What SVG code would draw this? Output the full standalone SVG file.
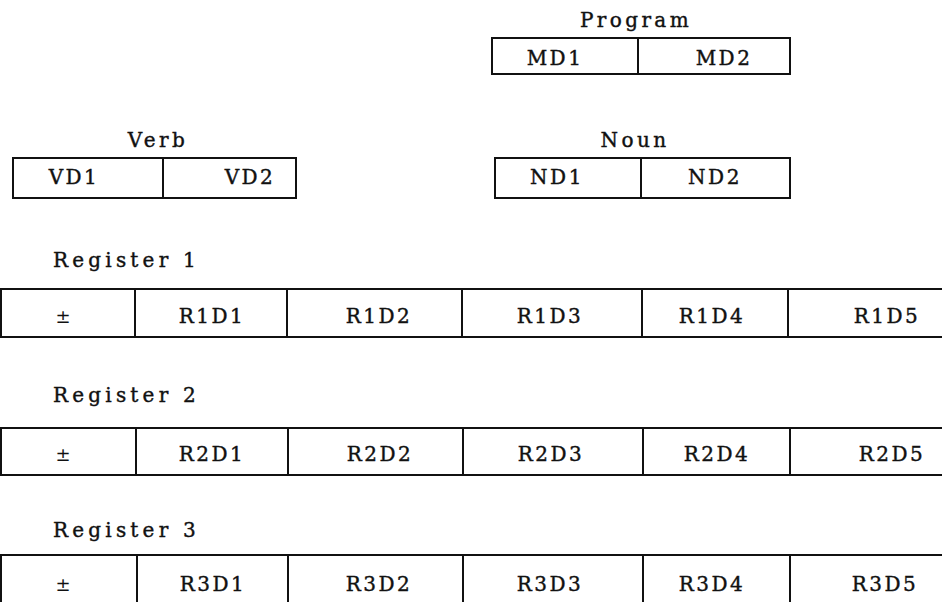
<svg xmlns="http://www.w3.org/2000/svg" width="942" height="602" viewBox="0 0 942 602">
<style>
  .bg{fill:#fff}
  .box{fill:none;stroke:#111;stroke-width:2}
  .div{stroke:#111;stroke-width:2}
  .t{font-family:"DejaVu Serif","Liberation Serif",serif;font-size:20px;fill:#111;stroke:#111;stroke-width:0.4;text-anchor:middle;letter-spacing:2.5px}
  .lab{font-family:"DejaVu Serif","Liberation Serif",serif;font-size:20px;fill:#111;stroke:#111;stroke-width:0.4;letter-spacing:4.2px}
  .pm{font-family:"DejaVu Serif","Liberation Serif",serif;font-size:18px;fill:#111;text-anchor:middle}
</style>
<rect class="bg" x="0" y="0" width="942" height="602"/>

<g id="program">
  <text class="t" x="636" y="27" style="letter-spacing:3.4px">Program</text>
  <rect class="box" x="492" y="38" width="298" height="36"/>
  <line class="div" x1="638" y1="38" x2="638" y2="74"/>
  <text class="t" x="555" y="65">MD1</text>
  <text class="t" x="724" y="65">MD2</text>
</g>

<g id="verb">
  <text class="t" x="158" y="147" style="letter-spacing:3.4px">Verb</text>
  <rect class="box" x="13" y="158" width="283" height="40"/>
  <line class="div" x1="163" y1="158" x2="163" y2="198"/>
  <text class="t" x="74" y="184">VD1</text>
  <text class="t" x="250" y="184">VD2</text>
</g>

<g id="noun">
  <text class="t" x="635" y="147" style="letter-spacing:3.4px">Noun</text>
  <rect class="box" x="495" y="158" width="295" height="40"/>
  <line class="div" x1="641" y1="158" x2="641" y2="198"/>
  <text class="t" x="557" y="184">ND1</text>
  <text class="t" x="715" y="184">ND2</text>
</g>

<g id="register1">
  <text class="lab" x="53" y="267">Register 1</text>
  <rect class="box" x="1" y="289" width="950" height="48"/>
  <line class="div" x1="135" y1="289" x2="135" y2="337"/>
  <line class="div" x1="287" y1="289" x2="287" y2="337"/>
  <line class="div" x1="462" y1="289" x2="462" y2="337"/>
  <line class="div" x1="642" y1="289" x2="642" y2="337"/>
  <line class="div" x1="788" y1="289" x2="788" y2="337"/>
  <text class="pm" x="63" y="323">±</text>
  <text class="t" x="212" y="323">R1D1</text>
  <text class="t" x="379" y="323">R1D2</text>
  <text class="t" x="550" y="323">R1D3</text>
  <text class="t" x="712" y="323">R1D4</text>
  <text class="t" x="887" y="323">R1D5</text>
</g>

<g id="register2">
  <text class="lab" x="53" y="402">Register 2</text>
  <rect class="box" x="1" y="428" width="950" height="47"/>
  <line class="div" x1="136" y1="428" x2="136" y2="475"/>
  <line class="div" x1="288" y1="428" x2="288" y2="475"/>
  <line class="div" x1="463" y1="428" x2="463" y2="475"/>
  <line class="div" x1="643" y1="428" x2="643" y2="475"/>
  <line class="div" x1="790" y1="428" x2="790" y2="475"/>
  <text class="pm" x="63" y="461">±</text>
  <text class="t" x="212" y="461">R2D1</text>
  <text class="t" x="380" y="461">R2D2</text>
  <text class="t" x="551" y="461">R2D3</text>
  <text class="t" x="717" y="461">R2D4</text>
  <text class="t" x="892" y="461">R2D5</text>
</g>

<g id="register3">
  <text class="lab" x="53" y="537">Register 3</text>
  <rect class="box" x="1" y="555" width="950" height="60"/>
  <line class="div" x1="137" y1="555" x2="137" y2="602"/>
  <line class="div" x1="288" y1="555" x2="288" y2="602"/>
  <line class="div" x1="463" y1="555" x2="463" y2="602"/>
  <line class="div" x1="643" y1="555" x2="643" y2="602"/>
  <line class="div" x1="790" y1="555" x2="790" y2="602"/>
  <text class="pm" x="63" y="591">±</text>
  <text class="t" x="213" y="591">R3D1</text>
  <text class="t" x="379" y="591">R3D2</text>
  <text class="t" x="550" y="591">R3D3</text>
  <text class="t" x="712" y="591">R3D4</text>
  <text class="t" x="885" y="591">R3D5</text>
</g>

<g id="connectors"></g>
</svg>
